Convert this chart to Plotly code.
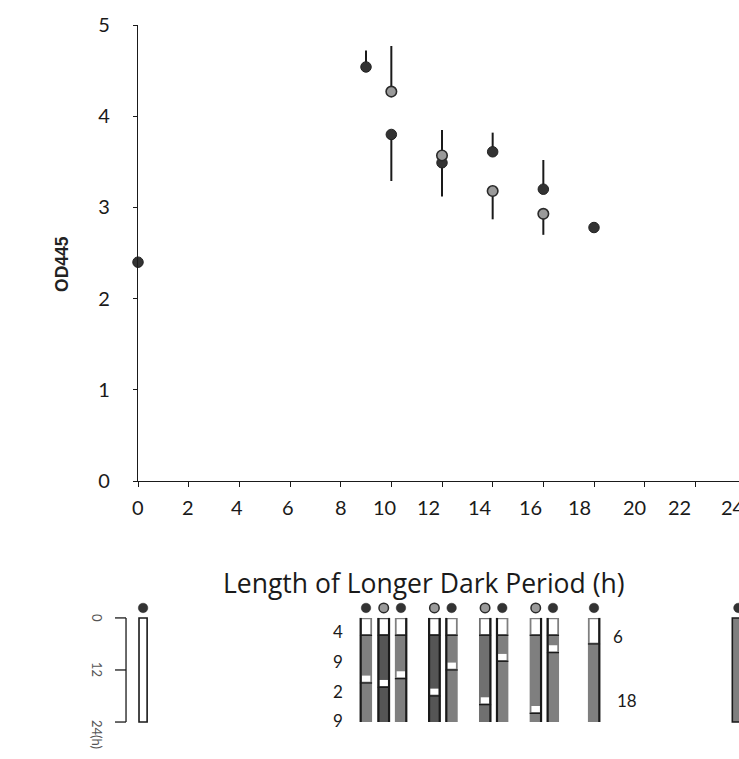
import plotly.graph_objects as go

# ---- OD445 by length of the longer dark period (h) ----
# dark dots: schedules where the longer dark period comes last / single-period schedules
dark_x = [0, 9, 10, 12, 14, 16, 18]
dark_y = [2.40, 4.54, 3.80, 3.49, 3.61, 3.20, 2.78]
dark_err_up = [0, 0.18, 0, 0, 0.21, 0.32, 0]
dark_err_down = [0, 0, 0.51, 0.37, 0, 0, 0]

# gray dots: schedules where the longer dark period comes first
gray_x = [10, 12, 14, 16]
gray_y = [4.27, 3.57, 3.18, 2.93]
gray_err_up = [0.50, 0.28, 0, 0]
gray_err_down = [0, 0, 0.31, 0.23]

x_ticks = [0, 2, 4, 6, 8, 10, 12, 14, 16, 18, 20, 22, 24]
y_ticks = [0, 1, 2, 3, 4, 5]

# ---- 24 h light/dark schedules (alternating light, dark lengths in hours) ----
sched_longer_dark = [0, 9, 10, 10, 12, 12, 14, 14, 16, 16, 18, 24]
sched_group = ["dark", "dark", "gray", "dark", "gray", "dark",
               "gray", "dark", "gray", "dark", "dark", "dark"]
sched_periods = [
    [24],
    [4, 9, 2, 9],
    [4, 10, 2, 8],
    [4, 8, 2, 10],
    [4, 12, 2, 6],
    [4, 6, 2, 12],
    [4, 14, 2, 4],
    [4, 4, 2, 14],
    [4, 16, 2, 2],
    [4, 2, 2, 16],
    [6, 18],
    [0, 24],
]

# ---- styling ----
DARK = "#333333"
GRAY = "#9a9a9a"
INK = "#1a1a1a"
BAR_GRAY = "#7f7f7f"
BAR_DEEP = "#555555"
bar_fill = [None, BAR_GRAY, BAR_DEEP, BAR_GRAY, BAR_DEEP, BAR_GRAY,
            "#707070", BAR_GRAY, BAR_GRAY, BAR_GRAY, BAR_GRAY, BAR_GRAY]
bar_edges = ["box", "L", "LR", "R", "LR", "L", "R", "L", "R", "L", "R", "box"]
tick_label_shift = [0, -1, -2, -2, 0, -7, -14, -13, -13, -15, -10, -16, -13]
TICK_FONT = dict(family="Lato, Open Sans, sans-serif", size=20, color=INK)
TEXT_FONT = "Lato, Open Sans, sans-serif"

fig = go.Figure()

fig.add_trace(go.Scatter(
    x=dark_x, y=dark_y, mode="markers", cliponaxis=False,
    marker=dict(size=10.5, color=DARK, line=dict(color="#222222", width=1)),
    error_y=dict(type="data", symmetric=False, array=dark_err_up,
                 arrayminus=dark_err_down, width=0, thickness=2, color=INK),
    xaxis="x", yaxis="y", hoverinfo="skip"))

fig.add_trace(go.Scatter(
    x=gray_x, y=gray_y, mode="markers", cliponaxis=False,
    marker=dict(size=10.5, color=GRAY, line=dict(color="#2a2a2a", width=1.6)),
    error_y=dict(type="data", symmetric=False, array=gray_err_up,
                 arrayminus=gray_err_down, width=0, thickness=2, color=INK),
    xaxis="x", yaxis="y", hoverinfo="skip"))

# ---- schedule bars under the plot, placed on the same hour axis ----
counts = {v: sched_longer_dark.count(v) for v in sched_longer_dark}
centers = []
for v, g in zip(sched_longer_dark, sched_group):
    c = float(v)
    if counts[v] > 1:
        c += -0.30 if g == "gray" else 0.38
    c = min(max(c, 0.2), 23.7)
    centers.append(c)

shapes = []
for i, (c, periods) in enumerate(zip(centers, sched_periods)):
    all_light = len(periods) == 1
    hw = 0.16 if all_light else 0.24
    x0, x1 = c - hw, c + hw
    fill = "white" if all_light else bar_fill[i]
    shapes.append(dict(type="rect", xref="x2", yref="y2", x0=x0, x1=x1, y0=0, y1=24,
                       fillcolor=fill, line=dict(width=0), layer="above"))
    # light segments sit at even positions of the period list
    t = 0.0
    for k, p in enumerate(periods):
        if k % 2 == 0 and p > 0 and not all_light:
            shapes.append(dict(type="rect", xref="x2", yref="y2",
                               x0=x0 + 0.07, x1=x1 - 0.07, y0=t + 0.3, y1=t + p - 0.3,
                               fillcolor="white", line=dict(width=0), layer="above"))
            shapes.append(dict(type="line", xref="x2", yref="y2", x0=x0, x1=x1,
                               y0=t + p, y1=t + p, line=dict(color=INK, width=1.3),
                               layer="above"))
        t += p
    e = bar_edges[i]
    if e == "box":
        shapes.append(dict(type="rect", xref="x2", yref="y2", x0=x0, x1=x1, y0=0, y1=24,
                           fillcolor="rgba(0,0,0,0)", line=dict(color=INK, width=1.6),
                           layer="above"))
    if "L" in e:
        shapes.append(dict(type="line", xref="x2", yref="y2", x0=x0 + 0.03, x1=x0 + 0.03,
                           y0=0, y1=24, line=dict(color=INK, width=2.2), layer="above"))
    if "R" in e:
        shapes.append(dict(type="line", xref="x2", yref="y2", x0=x1 - 0.03, x1=x1 - 0.03,
                           y0=0, y1=24, line=dict(color=INK, width=2.2), layer="above"))

# shade dots above each schedule bar
fig.add_trace(go.Scatter(
    x=centers, y=[-2.3] * len(centers), mode="markers", cliponaxis=False,
    marker=dict(size=9.5,
                color=[GRAY if g == "gray" else DARK for g in sched_group],
                line=dict(color="#2a2a2a", width=[1.5 if g == "gray" else 0.5 for g in sched_group])),
    xaxis="x2", yaxis="y2", hoverinfo="skip"))

# hour bracket at the left of the schedules
for h in [0, 12, 24]:
    shapes.append(dict(type="line", xref="paper", yref="y2", x0=-0.0378, x1=-0.0197,
                       y0=h, y1=h, line=dict(color=INK, width=1.3)))
shapes.append(dict(type="line", xref="paper", yref="y2", x0=-0.0197, x1=-0.0197,
                   y0=0, y1=24, line=dict(color=INK, width=1.3)))

annotations = []
for txt, h in [("0", 0), ("12", 12)]:
    annotations.append(dict(text=txt, xref="paper", yref="y2", x=-0.0675, y=h,
                            xanchor="center", yanchor="middle",
                            showarrow=False, textangle=90,
                            font=dict(family=TEXT_FONT, size=13, color="#555555")))
annotations.append(dict(text="24(h)", xref="paper", yref="paper", x=-0.0675, y=-0.0142,
                        xanchor="center", yanchor="middle",
                        showarrow=False, textangle=90,
                        font=dict(family=TEXT_FONT, size=13, color="#555555")))

# period lengths written beside the first and the 6:18 schedules
for k, p in enumerate(sched_periods[1]):
    annotations.append(dict(text=str(p), xref="x2", yref="y2", x=7.9, y=3.2 + 6.85 * k,
                            xanchor="center", yanchor="middle", showarrow=False,
                            font=dict(family=TEXT_FONT, size=17, color=INK)))
for p, (xx, yy) in zip(sched_periods[10], [(18.95, 4.3), (19.3, 19.0)]):
    annotations.append(dict(text=str(p), xref="x2", yref="y2", x=xx, y=yy,
                            xanchor="center", yanchor="middle", showarrow=False,
                            font=dict(family=TEXT_FONT, size=17, color=INK)))

# x tick labels
for t, s in zip(x_ticks, tick_label_shift):
    annotations.append(dict(text=str(t), xref="x", yref="y", x=t, y=0,
                            xanchor="center", yanchor="top",
                            yshift=-12, xshift=s, showarrow=False, font=TICK_FONT))

# axis titles
annotations.append(dict(text="Length of Longer Dark Period (h)", xref="paper", yref="paper",
                        x=0.4704, y=0.2025, xanchor="center", yanchor="middle",
                        showarrow=False,
                        font=dict(family="Open Sans, sans-serif", size=26.5, color=INK)))
annotations.append(dict(text="<b>OD445</b>", xref="paper", yref="paper",
                        x=-0.125, y=0.6586, xanchor="center", yanchor="middle",
                        showarrow=False, textangle=-90,
                        font=dict(family="Liberation Sans, Arial, sans-serif", size=17.5, color="#222222")))

fig.update_layout(
    width=770, height=759,
    margin=dict(l=138, r=24, t=19, b=34),
    paper_bgcolor="white", plot_bgcolor="white",
    showlegend=False,
    xaxis=dict(domain=[0, 1], range=[0, 24], anchor="y", tickvals=x_ticks,
               showticklabels=False, ticks="outside", ticklen=5, tickwidth=1.3,
               tickcolor=INK, showline=True, linecolor=INK, linewidth=1.4,
               showgrid=False, zeroline=False),
    yaxis=dict(domain=[0.3484, 1], range=[0, 5], anchor="x", tickvals=y_ticks,
               ticks="outside", ticklen=4, tickwidth=1.3, tickcolor=INK,
               showline=True, linecolor=INK, linewidth=1.4, showgrid=False,
               zeroline=False, tickfont=TICK_FONT, ticklabelstandoff=19),
    xaxis2=dict(domain=[0, 1], range=[0, 24], anchor="y2", visible=False),
    yaxis2=dict(domain=[0, 0.17705], range=[24.686, -3.886], anchor="x2", visible=False),
    shapes=shapes,
    annotations=annotations,
)

fig.write_html("out.html", post_script=(
    "document.documentElement.style.overflow='hidden';"
    "document.body.style.overflow='hidden';document.body.style.margin='0';"))
